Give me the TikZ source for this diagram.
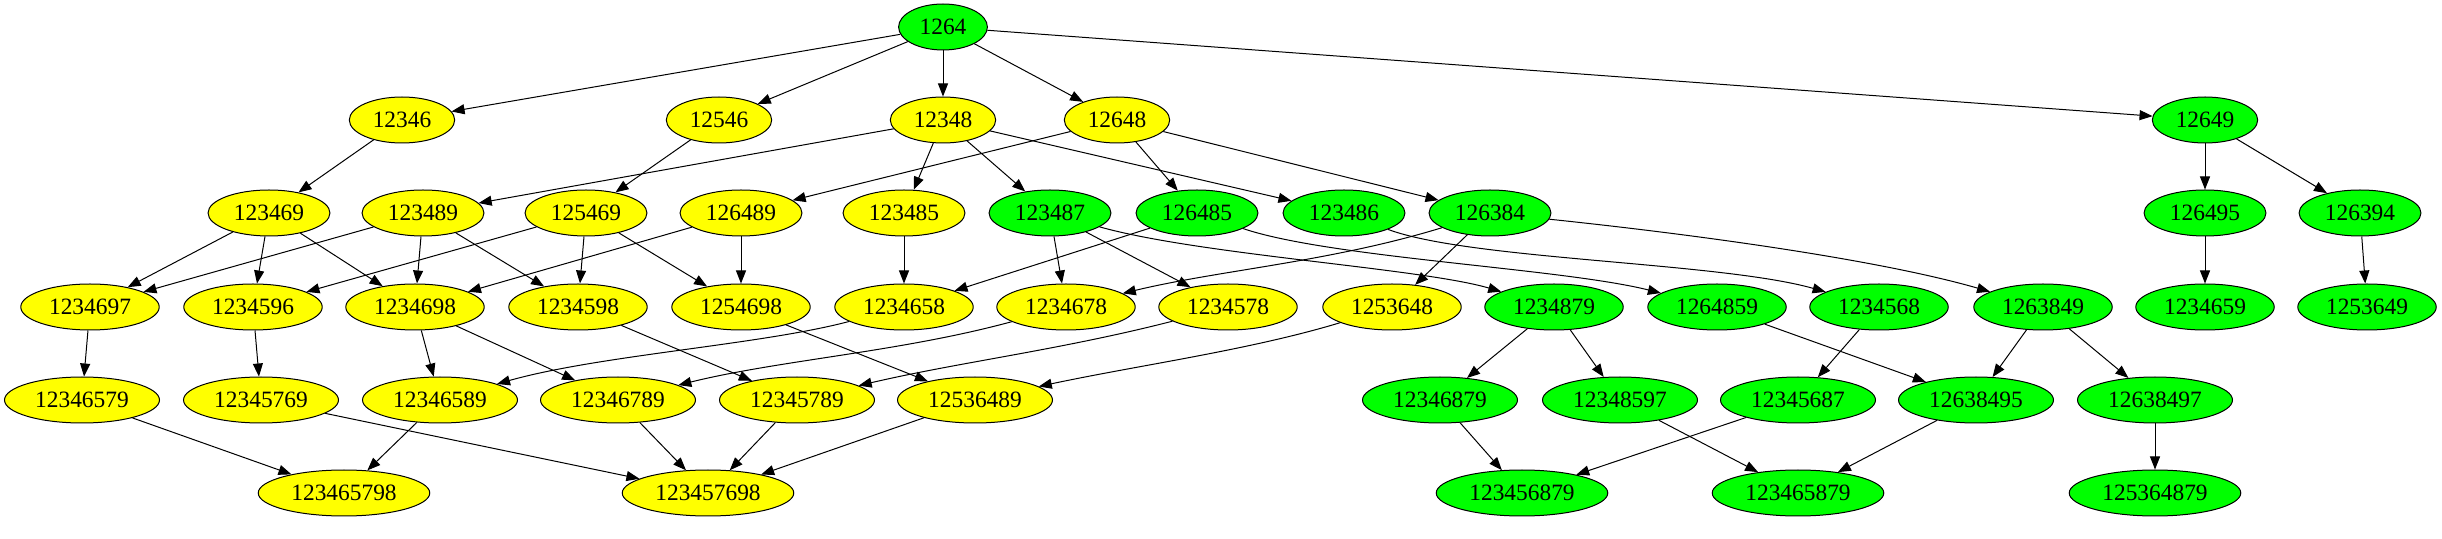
\documentclass[tikz,border=0pt]{standalone}
\usepackage{fontspec}
\setmainfont{Liberation Serif}
\usetikzlibrary{arrows.meta, shapes.geometric}

\definecolor{gvyellow}{RGB}{255,255,0}
\definecolor{gvgreen}{RGB}{0,255,0}

\begin{document}
\begin{tikzpicture}[x=0.5pt, y=-0.5pt,
    every node/.style={ellipse, draw, line width=0.5pt, inner xsep=4pt, inner ysep=4pt,
        minimum height=23pt, font=\fontsize{11.7}{14}\selectfont},
    edge/.style={line width=0.5pt, -{Triangle[length=6.5pt,width=5pt]}}]

\useasboundingbox (0,0) rectangle (2442,539);

% rows of the lattice, top to bottom
\foreach \n/\x/\y/\c in {1264/943/27/gvgreen,
    12346/402/120/gvyellow, 12546/719/120/gvyellow, 12348/943/120/gvyellow,
    12648/1117/120/gvyellow, 12649/2205/120/gvgreen,
    123469/269/213/gvyellow, 123489/423/213/gvyellow, 125469/586/213/gvyellow,
    126489/741/213/gvyellow, 123485/904/213/gvyellow, 123487/1050/213/gvgreen,
    126485/1197/213/gvgreen, 123486/1344/213/gvgreen, 126384/1490/213/gvgreen,
    126495/2205/213/gvgreen, 126394/2360/213/gvgreen,
    1234697/90/307/gvyellow, 1234596/253/307/gvyellow, 1234698/415/307/gvyellow,
    1234598/578/307/gvyellow, 1254698/741/307/gvyellow, 1234658/904/307/gvyellow,
    1234678/1066/307/gvyellow, 1234578/1228/307/gvyellow, 1253648/1392/307/gvyellow,
    1234879/1554/307/gvgreen, 1264859/1717/307/gvgreen, 1234568/1879/307/gvgreen,
    1263849/2043/307/gvgreen, 1234659/2205/307/gvgreen, 1253649/2367/307/gvgreen,
    12346579/82/400/gvyellow, 12345769/261/400/gvyellow, 12346589/440/400/gvyellow,
    12346789/618/400/gvyellow, 12345789/797/400/gvyellow, 12536489/975/400/gvyellow,
    12346879/1440/400/gvgreen, 12348597/1620/400/gvgreen, 12345687/1798/400/gvgreen,
    12638495/1976/400/gvgreen, 12638497/2155/400/gvgreen,
    123465798/344/493/gvyellow, 123457698/708/493/gvyellow,
    123456879/1522/493/gvgreen, 123465879/1798/493/gvgreen,
    125364879/2155/493/gvgreen} {
    \node[fill=\c] (n\n) at (\x,\y) {\n};
}

% straight edges
\foreach \a/\b in {1264/12346, 1264/12546, 1264/12348, 1264/12648, 1264/12649,
    12346/123469, 12546/125469,
    12348/123489, 12348/123485, 12348/123487, 12348/123486,
    12648/126489, 12648/126485, 12648/126384,
    12649/126495, 12649/126394,
    123469/1234697, 123469/1234596, 123469/1234698,
    123489/1234697, 123489/1234698, 123489/1234598,
    125469/1234596, 125469/1234598, 125469/1254698,
    126489/1234698, 126489/1254698,
    123485/1234658, 123487/1234678, 123487/1234578,
    126485/1234658, 126384/1253648,
    126495/1234659, 126394/1253649,
    1234697/12346579, 1234596/12345769, 1234698/12346589, 1234698/12346789,
    1234598/12345789, 1254698/12536489,
    1234879/12346879, 1234879/12348597,
    1264859/12638495, 1234568/12345687,
    1263849/12638495, 1263849/12638497,
    12346579/123465798, 12345769/123457698, 12346589/123465798,
    12346789/123457698, 12345789/123457698, 12536489/123457698,
    12346879/123456879, 12348597/123465879, 12345687/123456879,
    12638495/123465879, 12638497/125364879} {
    \draw[edge] (n\a) -- (n\b);
}

% long curved edges
\draw[edge] (n123487) .. controls (1200,255) and (1420,268) .. (n1234879);
\draw[edge] (n126485) .. controls (1330,258) and (1560,268) .. (n1264859);
\draw[edge] (n123486) .. controls (1470,260) and (1720,262) .. (n1234568);
\draw[edge] (n126384) .. controls (1700,235) and (1880,260) .. (n1263849);
\draw[edge] (n126384) .. controls (1330,262) and (1220,270) .. (n1234678);
\draw[edge] (n1234658) .. controls (760,345) and (600,355) .. (n12346589);
\draw[edge] (n1234678) .. controls (900,352) and (780,360) .. (n12346789);
\draw[edge] (n1234578) .. controls (1060,350) and (960,362) .. (n12345789);
\draw[edge] (n1253648) .. controls (1250,350) and (1140,365) .. (n12536489);
\end{tikzpicture}
\end{document}
